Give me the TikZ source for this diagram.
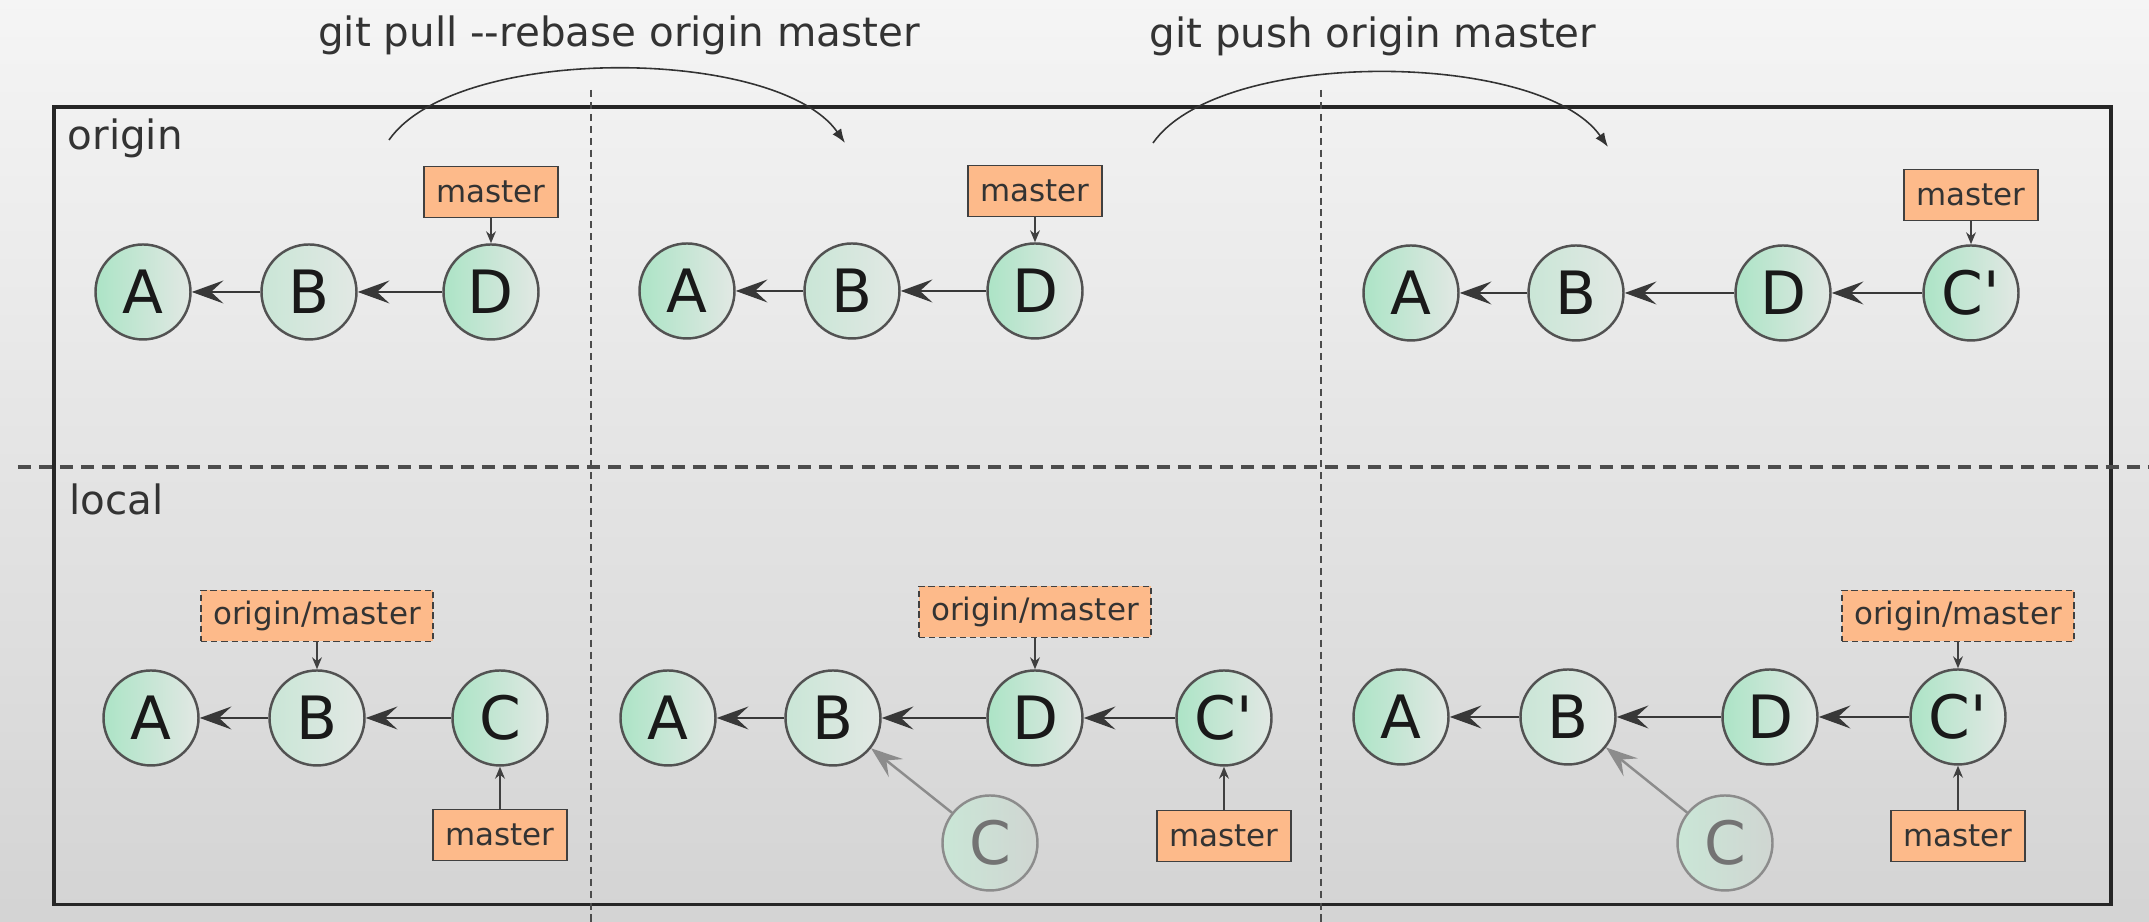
\documentclass[tikz,border=0pt]{standalone}
\usepackage{fontspec}
\setmainfont{DejaVu Sans}
\usetikzlibrary{
  arrows.meta,
  positioning
}

\definecolor{commitgreen}{RGB}{172,228,198}
\definecolor{commitgrey}{RGB}{226,232,228}
\definecolor{branchorange}{RGB}{253,186,138}

\tikzset{
  commit/.style={circle, draw=black!68, line width=0.7pt, minimum size=0.95cm,
    inner sep=0pt, left color=commitgreen, right color=commitgrey,
    font=\fontsize{17}{17}\selectfont, text=black!90},
  palecommit/.style={commit, left color=commitgreen!45!commitgrey},
  ghostcommit/.style={commit, draw=black!45, text=black!55,
    left color=commitgreen!45!commitgrey, right color=commitgrey!92!black},
  branchlabel/.style={rectangle, draw=black!75, line width=0.55pt, fill=branchorange,
    inner xsep=3.5pt, inner ysep=0pt, minimum height=0.51cm,
    font=\fontsize{8.8}{9}\selectfont, text=black!80},
  remotelabel/.style={branchlabel, dash pattern=on 1.8pt off 1.1pt},
  parent/.style={-{Stealth[length=9pt,width=6.5pt,inset=3.5pt]}, draw=black!78, line width=0.7pt},
  ghostparent/.style={parent, draw=black!45},
  pointer/.style={-{Stealth[length=3.4pt,width=2.8pt]}, draw=black!75, line width=0.5pt},
  hop/.style={-{Latex[length=4pt,width=3pt]}, draw=black!80, line width=0.45pt},
  heading/.style={font=\fontsize{11.5}{12}\selectfont, text=black!80, inner sep=0pt}
}

\begin{document}
\begin{tikzpicture}
  \useasboundingbox (0, 0) rectangle (21.49, 9.22);
  \fill[top color=black!4, bottom color=black!17] (0, 0) rectangle (21.49, 9.22);
  \draw[line width=1.1pt, draw=black!85] (0.54, 0.175) rectangle (21.11, 8.15);
  \draw[line width=1pt, draw=black!70, dash pattern=on 3.7pt off 2.3pt] (0.18, 4.55) -- (21.49, 4.55);
  \draw[line width=0.45pt, draw=black!70, dash pattern=on 2pt off 1.4pt] (5.91, 8.32) -- (5.91, 0);
  \draw[line width=0.45pt, draw=black!70, dash pattern=on 2pt off 1.4pt] (13.21, 8.32) -- (13.21, 0);

  \node[heading, anchor=base] (PullCmd) at (6.19, 8.75) {git pull -\kern0pt-rebase origin master};
  \node[heading, anchor=base] (PushCmd) at (13.73, 8.74) {git push origin master};
  \node[heading, anchor=base west] (OriginSide) at (0.67, 7.72) {origin};
  \node[heading, anchor=base west] (LocalSide) at (0.69, 4.07) {local};

  \node[commit] (OrigA1) at (1.43, 6.30) {A};
  \node[palecommit] (OrigB1) at (3.09, 6.30) {B};
  \node[commit] (OrigD1) at (4.91, 6.30) {D};
  \node[branchlabel] (OrigMaster1) at (4.91, 7.30) {master};
  \draw[parent] (OrigB1) -- (OrigA1);
  \draw[parent] (OrigD1) -- (OrigB1);
  \draw[pointer] (OrigMaster1) -- (OrigD1);

  \node[commit] (LocA1) at (1.51, 2.04) {A};
  \node[palecommit] (LocB1) at (3.17, 2.04) {B};
  \node[commit] (LocC1) at (5.00, 2.04) {C};
  \node[remotelabel] (LocRemote1) at (3.17, 3.06) {origin/master};
  \node[branchlabel] (LocMaster1) at (5.00, 0.87) {master};
  \draw[parent] (LocB1) -- (LocA1);
  \draw[parent] (LocC1) -- (LocB1);
  \draw[pointer] (LocRemote1) -- (LocB1);
  \draw[pointer] (LocMaster1) -- (LocC1);

  \node[commit] (OrigA2) at (6.87, 6.31) {A};
  \node[palecommit] (OrigB2) at (8.52, 6.31) {B};
  \node[commit] (OrigD2) at (10.35, 6.31) {D};
  \node[branchlabel] (OrigMaster2) at (10.35, 7.31) {master};
  \draw[parent] (OrigB2) -- (OrigA2);
  \draw[parent] (OrigD2) -- (OrigB2);
  \draw[pointer] (OrigMaster2) -- (OrigD2);

  \node[commit] (LocA2) at (6.68, 2.04) {A};
  \node[palecommit] (LocB2) at (8.33, 2.04) {B};
  \node[commit] (LocD2) at (10.35, 2.04) {D};
  \node[commit] (LocCp2) at (12.24, 2.04) {C\textquotesingle};
  \node[ghostcommit] (LocC2) at (9.90, 0.79) {C};
  \node[remotelabel] (LocRemote2) at (10.35, 3.10) {origin/master};
  \node[branchlabel] (LocMaster2) at (12.24, 0.86) {master};
  \draw[parent] (LocB2) -- (LocA2);
  \draw[parent] (LocD2) -- (LocB2);
  \draw[parent] (LocCp2) -- (LocD2);
  \draw[ghostparent] (LocC2) -- (LocB2);
  \draw[pointer] (LocRemote2) -- (LocD2);
  \draw[pointer] (LocMaster2) -- (LocCp2);

  \node[commit] (OrigA3) at (14.11, 6.29) {A};
  \node[palecommit] (OrigB3) at (15.76, 6.29) {B};
  \node[commit] (OrigD3) at (17.83, 6.29) {D};
  \node[commit] (OrigCp3) at (19.71, 6.29) {C\textquotesingle};
  \node[branchlabel] (OrigMaster3) at (19.71, 7.27) {master};
  \draw[parent] (OrigB3) -- (OrigA3);
  \draw[parent] (OrigD3) -- (OrigB3);
  \draw[parent] (OrigCp3) -- (OrigD3);
  \draw[pointer] (OrigMaster3) -- (OrigCp3);

  \node[commit] (LocA3) at (14.01, 2.05) {A};
  \node[palecommit] (LocB3) at (15.68, 2.05) {B};
  \node[commit] (LocD3) at (17.70, 2.05) {D};
  \node[commit] (LocCp3) at (19.58, 2.05) {C\textquotesingle};
  \node[ghostcommit] (LocC3) at (17.25, 0.79) {C};
  \node[remotelabel] (LocRemote3) at (19.58, 3.06) {origin/master};
  \node[branchlabel] (LocMaster3) at (19.58, 0.86) {master};
  \draw[parent] (LocB3) -- (LocA3);
  \draw[parent] (LocD3) -- (LocB3);
  \draw[parent] (LocCp3) -- (LocD3);
  \draw[ghostparent] (LocC3) -- (LocB3);
  \draw[pointer] (LocRemote3) -- (LocCp3);
  \draw[pointer] (LocMaster3) -- (LocCp3);

  \coordinate (PullFrom) at (3.89, 7.82);
  \coordinate (PullTo) at (8.45, 7.79);
  \coordinate (PushFrom) at (11.53, 7.79);
  \coordinate (PushTo) at (16.08, 7.75);
  \draw[hop] (PullFrom) to[out=55, in=125, looseness=0.66] (PullTo);
  \draw[hop] (PushFrom) to[out=55, in=125, looseness=0.66] (PushTo);
\end{tikzpicture}
\end{document}
